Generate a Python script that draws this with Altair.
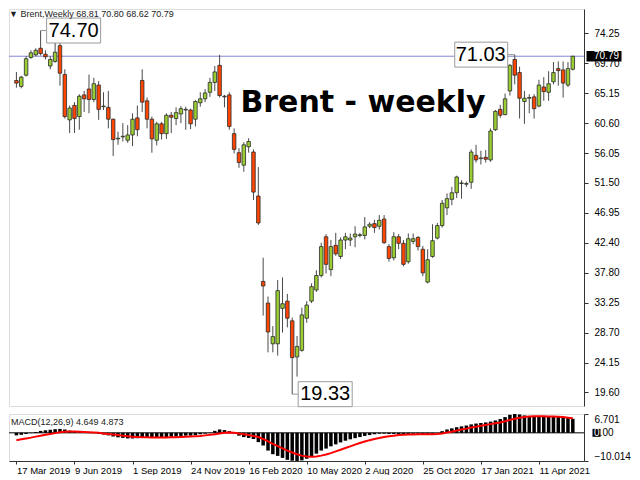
import altair as alt
import pandas as pd

# ---------------- data ----------------
opens = [67.1, 66.2, 67.9, 70.6, 71.0, 72.0, 71.1, 69.3, 70.0, 72.4,
         68.0, 61.1, 63.3, 61.6, 64.9, 65.8, 64.2, 66.4, 63.1, 63.0,
         61.2, 58.2, 58.5, 58.0, 58.8, 61.4, 67.1, 64.0, 61.2, 58.0,
         60.5, 59.0, 61.8, 61.3, 62.0, 62.6, 62.6, 61.2, 63.7, 64.3,
         65.3, 66.8, 69.4, 64.7, 64.9, 59.0, 56.1, 54.2, 57.0, 56.2,
         49.5, 36.5, 33.2, 27.0, 27.0, 32.4, 33.5, 30.5, 25.0, 26.0,
         30.9, 33.5, 35.2, 37.4, 43.3, 38.3, 42.0, 40.3, 42.8, 42.8,
         43.3, 43.5, 43.5, 44.9, 45.3, 44.9, 46.0, 41.8, 40.1, 43.3,
         42.3, 39.5, 42.6, 43.2, 41.4, 36.4, 40.3, 43.1, 45.0, 47.7,
         49.0, 50.0, 51.4, 51.3, 51.6, 55.7, 55.2, 55.4, 55.0, 59.6,
         62.7, 61.9, 65.5, 70.3, 68.3, 63.9, 64.4, 64.6, 63.2, 66.1,
         65.3, 66.9, 68.9, 68.7, 66.4, 68.81]
highs = [68.4, 67.8, 70.8, 71.7, 72.0, 74.70, 71.7, 70.8, 72.8, 72.8,
         68.8, 63.3, 63.8, 65.0, 65.5, 68.0, 67.5, 67.0, 65.3, 65.5,
         61.3, 59.3, 60.6, 60.3, 62.1, 63.3, 68.8, 64.5, 61.6, 60.8,
         60.8, 62.1, 62.3, 63.0, 63.2, 63.1, 62.8, 64.1, 65.3, 65.8,
         67.5, 69.3, 71.0, 64.9, 65.3, 59.8, 56.8, 57.7, 58.3, 56.6,
         53.9, 40.1, 34.2, 29.7, 36.7, 37.1, 34.6, 31.0, 28.2, 32.5,
         33.5, 36.2, 38.2, 42.4, 43.7, 42.8, 43.9, 43.2, 43.9, 43.8,
         44.9, 43.9, 46.3, 45.5, 45.9, 46.6, 46.6, 42.2, 44.0, 43.7,
         42.8, 43.8, 43.8, 43.4, 41.9, 41.4, 45.2, 45.4, 48.9, 49.9,
         50.9, 52.6, 51.9, 51.7, 56.6, 57.3, 56.4, 56.5, 59.8, 62.6,
         63.4, 65.1, 69.6, 71.03, 69.2, 65.5, 65.0, 65.0, 67.2, 67.6,
         68.5, 69.9, 70.0, 70.0, 69.9, 70.80]
lows = [66.0, 65.9, 67.7, 70.4, 70.8, 70.9, 70.3, 68.8, 69.8, 66.3,
        61.3, 59.1, 59.1, 59.6, 62.3, 62.1, 63.8, 61.1, 62.6, 59.8,
        55.6, 57.3, 57.8, 57.6, 57.1, 58.6, 62.3, 59.8, 56.1, 57.2,
        58.1, 58.2, 59.1, 60.3, 60.6, 59.6, 59.7, 60.1, 63.1, 63.8,
        64.6, 65.5, 64.5, 63.0, 59.6, 56.0, 53.8, 53.2, 56.1, 48.9,
        45.1, 31.3, 25.7, 25.7, 25.2, 28.7, 29.5, 19.33, 22.0, 25.8,
        30.2, 33.2, 34.9, 37.1, 37.7, 37.3, 40.4, 39.9, 41.4, 41.9,
        41.7, 43.2, 42.9, 44.6, 43.9, 44.4, 42.2, 39.5, 39.7, 41.4,
        38.8, 39.2, 42.2, 41.2, 37.3, 36.2, 40.1, 42.9, 44.7, 46.6,
        48.1, 49.2, 49.1, 50.9, 50.6, 54.6, 54.3, 54.6, 54.7, 59.4,
        61.4, 61.8, 64.8, 66.5, 61.3, 60.5, 62.1, 61.3, 63.0, 64.0,
        64.0, 66.5, 66.3, 64.5, 66.1, 68.62]
closes = [66.7, 67.6, 70.4, 71.3, 71.7, 71.2, 70.7, 70.3, 71.4, 68.2,
          61.6, 62.9, 61.3, 64.7, 64.3, 64.2, 66.6, 62.7, 63.2, 61.2,
          58.1, 58.3, 58.6, 58.8, 61.2, 59.6, 63.8, 61.2, 58.2, 60.5,
          59.0, 61.8, 61.5, 62.2, 62.8, 62.7, 60.5, 63.9, 64.3, 65.2,
          66.8, 68.4, 64.8, 64.6, 60.1, 56.6, 54.6, 57.3, 57.8, 50.1,
          45.4, 35.8, 28.8, 28.1, 35.1, 33.1, 30.9, 24.9, 26.6, 31.4,
          32.9, 35.7, 37.4, 41.8, 39.1, 41.8, 40.7, 42.8, 43.3, 43.1,
          43.7, 43.6, 44.8, 45.2, 44.7, 45.8, 42.4, 40.0, 43.3, 42.3,
          39.1, 43.0, 43.0, 41.8, 37.8, 39.8, 42.7, 45.0, 48.4, 49.1,
          50.0, 52.4, 51.5, 51.4, 56.2, 55.0, 55.3, 55.1, 59.4, 62.4,
          61.8, 64.3, 69.4, 67.9, 64.4, 64.4, 64.5, 62.8, 66.4, 65.4,
          66.6, 68.3, 68.6, 66.7, 68.9, 70.79]

macd_main = [-0.9, -0.7, -0.4, -0.1, 0.3, 0.7, 0.9, 1.1, 1.3, 1.4,
             1.2, 0.8, 0.4, 0.2, 0.1, -0.1, -0.1, -0.4, -0.6, -0.9,
             -1.3, -1.6, -1.8, -2.0, -2.0, -1.9, -1.6, -1.6, -1.8, -1.7,
             -1.6, -1.5, -1.4, -1.3, -1.1, -1.0, -1.0, -0.8, -0.5, -0.3,
             0.1, 0.7, 1.2, 1.0, 0.6, -0.2, -1.0, -1.5, -1.8, -2.2,
             -3.3, -4.5, -6.3, -7.6, -8.2, -8.9, -9.6, -9.9, -10.0, -9.8,
             -9.2, -8.3, -7.4, -6.3, -5.6, -4.8, -4.1, -3.4, -2.8, -2.3,
             -1.9, -1.5, -1.1, -0.8, -0.5, -0.3, -0.3, -0.4, -0.4, -0.4,
             -0.5, -0.4, -0.3, -0.3, -0.5, -0.6, -0.4, 0.0, 0.6, 1.2,
             1.6, 2.0, 2.3, 2.6, 3.0, 3.3, 3.5, 3.7, 4.0, 4.4,
             4.9, 5.6, 6.4, 6.7, 6.5, 6.2, 6.0, 5.8, 5.8, 5.8,
             5.9, 5.9, 5.8, 5.6, 5.4, 5.0]
macd_signal = [-2.6, -2.3, -2.0, -1.7, -1.35, -1.0, -0.7, -0.4, -0.1, 0.2,
               0.4, 0.5, 0.5, 0.4, 0.3, 0.2, 0.1, 0.0, -0.2, -0.4,
               -0.6, -0.8, -1.0, -1.2, -1.4, -1.5, -1.6, -1.6, -1.7, -1.7,
               -1.7, -1.7, -1.6, -1.6, -1.5, -1.4, -1.3, -1.2, -1.1, -0.9,
               -0.7, -0.5, -0.2, 0.0, 0.1, 0.0, -0.2, -0.5, -0.8, -1.1,
               -1.5, -2.2, -3.0, -3.9, -4.7, -5.5, -6.3, -7.0, -7.6, -8.1,
               -8.4, -8.5, -8.4, -8.1, -7.7, -7.2, -6.6, -6.0, -5.4, -4.8,
               -4.2, -3.6, -3.1, -2.6, -2.2, -1.8, -1.5, -1.2, -1.0, -0.8,
               -0.7, -0.6, -0.6, -0.5, -0.5, -0.5, -0.5, -0.4, -0.2, 0.1,
               0.4, 0.8, 1.2, 1.5, 1.9, 2.2, 2.5, 2.8, 3.1, 3.4,
               3.7, 4.1, 4.6, 5.0, 5.4, 5.6, 5.8, 5.9, 5.9, 5.9,
               5.8, 5.8, 5.7, 5.6, 5.4, 5.2]

date_tick_bars = [0, 12, 24, 36, 48, 60, 72, 84, 96, 108]
date_tick_labels = ["17 Mar 2019", "9 Jun 2019", "1 Sep 2019", "24 Nov 2019",
                    "16 Feb 2020", "10 May 2020", "2 Aug 2020", "25 Oct 2020",
                    "17 Jan 2021", "11 Apr 2021"]
price_ticks = [19.60, 24.15, 28.70, 33.25, 37.80, 42.40, 46.95, 51.50,
               56.05, 60.60, 65.15, 69.70, 74.25]
macd_ticks = [-10.014, 6.701]

header_text = "\u25bc Brent,Weekly  68.81 70.80 68.62 70.79"
macd_text = "MACD(12,26,9) 4.649 4.873"
title_text = "Brent - weekly"

ann_bars = [5, 103, 57]
ann_kind = ["high", "high", "low"]
ann_side = ["right", "left", "right"]

# ---------------- tables ----------------
n = len(closes)
df = pd.DataFrame({
    "idx": list(range(n)), "open": opens, "high": highs, "low": lows,
    "close": closes, "macd": macd_main, "signal": macd_signal,
})
ann_price = [highs[b] if k == "high" else lows[b] for b, k in zip(ann_bars, ann_kind)]
ann = pd.DataFrame({"idx": ann_bars, "price": ann_price, "side": ann_side,
                    "label": [f"{p:.2f}" for p in ann_price]})
last = pd.DataFrame({"v": [closes[-1]], "label": [f"{closes[-1]:.2f}"]})
one = pd.DataFrame({"v": [0]})

W = 575
H1 = 397
H2 = 47
BULL = "#9ACD32"
BEAR = "#FF4500"
FONT = "Liberation Sans"

xscale = alt.Scale(domain=[-0.5, 116.28], nice=False, zero=False)
yprice = alt.Scale(domain=[17.53, 77.98], nice=False, zero=False)
ymacd = alt.Scale(domain=[-10.014, 6.701], nice=False, zero=False)

base = alt.Chart(df)
X = alt.X("idx:Q", scale=xscale, axis=None)
price_axis = alt.Axis(orient="right", values=price_ticks, format=".2f", grid=False,
                      labelOverlap=False, tickSize=4, labelPadding=6, labelFont=FONT,
                      labelFontSize=10, labelColor="black", tickColor="#333",
                      domainColor="#333", title=None)

wicks = base.mark_rule(color="#4a4a4a", strokeWidth=1).encode(
    x=X, y=alt.Y("low:Q", scale=yprice, axis=price_axis), y2="high:Q")
bodies = base.mark_bar(width=3.5, stroke="#2a2a2a", strokeWidth=0.8).encode(
    x=X, y=alt.Y("open:Q", scale=yprice, axis=price_axis), y2="close:Q",
    fill=alt.condition("datum.close >= datum.open", alt.value(BULL), alt.value(BEAR)))

last_rule = alt.Chart(last).mark_rule(color="#8484d4", strokeWidth=1).encode(
    y=alt.Y("v:Q", scale=yprice, axis=price_axis))
last_box = alt.Chart(last).mark_point(
    shape="M-1,-0.3H1V0.3H-1Z", size=35 * 35, filled=True, opacity=1,
    color="black", strokeWidth=0).encode(
    x=alt.value(W + 20), y=alt.Y("v:Q", scale=yprice, axis=price_axis))
last_txt = alt.Chart(last).mark_text(
    color="white", font=FONT, fontSize=10, align="left", baseline="middle").encode(
    x=alt.value(W + 10), y=alt.Y("v:Q", scale=yprice, axis=price_axis), text="label:N")

path_right = "M0,0H0.1M0.1,-0.208H1V0.208H0.1Z"
path_left = "M0,0H-0.117M-0.117,-0.208H-1V0.208H-0.117Z"
ann_y = alt.Y("price:Q", scale=yprice, axis=price_axis)
ann_boxes = alt.Chart(ann).mark_point(
    size=120 * 120, filled=True, fill="white", stroke="#9a9a9a", strokeWidth=1,
    opacity=1).encode(
    x=alt.X("idx:Q", scale=xscale, axis=None), y=ann_y,
    shape=alt.Shape("side:N", scale=alt.Scale(domain=["right", "left"],
                                              range=[path_right, path_left]),
                    legend=None))
ann_txt_r = alt.Chart(ann).transform_filter("datum.side == 'right'").mark_text(
    font=FONT, fontSize=20, align="left", baseline="middle", dx=8, color="black").encode(
    x=alt.X("idx:Q", scale=xscale, axis=None), y=ann_y, text="label:N")
ann_txt_l = alt.Chart(ann).transform_filter("datum.side == 'left'").mark_text(
    font=FONT, fontSize=20, align="right", baseline="middle", dx=-9, color="black").encode(
    x=alt.X("idx:Q", scale=xscale, axis=None), y=ann_y, text="label:N")

title = alt.Chart(one).mark_text(
    text=title_text, font="DejaVu Sans", fontWeight="bold", fontSize=30,
    align="center", baseline="middle", color="black").encode(
    x=alt.value(354), y=alt.value(94))
header = alt.Chart(one).mark_text(
    text=header_text, font=FONT, fontSize=9, align="left", baseline="middle",
    color="#222").encode(x=alt.value(0), y=alt.value(5))

price = alt.layer(last_rule, wicks, bodies, ann_boxes, ann_txt_r, ann_txt_l,
                  last_box, last_txt, title, header).properties(width=W, height=H1)

# ---------------- MACD panel ----------------
label_expr = ("[" + ",".join(f"'{s}'" for s in date_tick_labels) + "]"
              "[indexof([" + ",".join(str(v) for v in date_tick_bars) + "], datum.value)]")
date_axis = alt.Axis(values=date_tick_bars, labelExpr=label_expr, grid=False,
                     tickSize=3, labelPadding=1, labelAlign="left", labelFont=FONT,
                     labelFontSize=9.5, labelColor="black", tickColor="#333",
                     domainColor="#333", labelOverlap=False, title=None)
macd_axis = alt.Axis(orient="right", values=macd_ticks, format=".3f", grid=False,
                     tickSize=4, labelPadding=6, labelFont=FONT, labelFontSize=10,
                     labelColor="black", labelFlush=True, labelOverlap=False,
                     tickColor="#333", domainColor="#333", title=None)

my = alt.Y("macd:Q", scale=ymacd, axis=macd_axis)
hist = base.mark_bar(color="black", width=3.5).encode(
    x=alt.X("idx:Q", scale=xscale, axis=date_axis), y=my, y2=alt.datum(0))
zero_rule = alt.Chart(one).mark_rule(color="black", strokeWidth=1).encode(y=alt.datum(0))
sig = base.mark_line(color="#ff0000", strokeWidth=2).encode(
    x=alt.X("idx:Q", scale=xscale, axis=date_axis),
    y=alt.Y("signal:Q", scale=ymacd, axis=macd_axis))
zero_box = alt.Chart(one).mark_point(
    shape="M-1,-1H1V1H-1Z", size=8 * 8, filled=True, opacity=1, color="black",
    strokeWidth=0).encode(x=alt.value(W + 12.5), y=alt.datum(0))
zero_white = alt.Chart(one).mark_text(
    text="0", font=FONT, fontSize=10, align="left", baseline="middle",
    color="white").encode(x=alt.value(W + 10), y=alt.datum(0))
zero_rest = alt.Chart(one).mark_text(
    text=".00", font=FONT, fontSize=10, align="left", baseline="middle",
    color="black").encode(x=alt.value(W + 15.6), y=alt.datum(0))
macd_lbl = alt.Chart(one).mark_text(
    text=macd_text, font=FONT, fontSize=9, align="left", baseline="middle",
    color="#222").encode(x=alt.value(2), y=alt.value(8))

macd = alt.layer(hist, zero_rule, sig, zero_box, zero_white, zero_rest,
                 macd_lbl).properties(width=W, height=H2)

chart = alt.vconcat(price, macd, spacing=1, padding=0).configure_view(
    stroke="#555", strokeWidth=1).configure_axis(labelOverlap=False).configure(
    background="white")

chart.save("out.html", embed_options={"renderer": "svg", "actions": False})
